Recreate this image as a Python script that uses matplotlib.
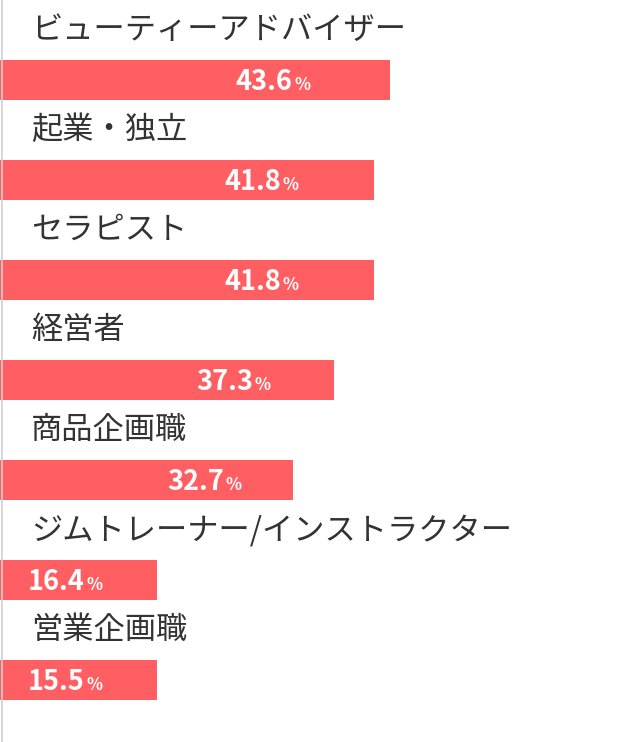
import matplotlib.pyplot as plt
from matplotlib.offsetbox import HPacker, TextArea, AnnotationBbox

plt.rcParams['font.family'] = ['Noto Sans CJK JP', 'DejaVu Sans']

labels = ['ビューティーアドバイザー', '起業・独立', 'セラピスト', '経営者',
          '商品企画職', 'ジムトレーナー/インストラクター', '営業企画職']
values = [43.6, 41.8, 41.8, 37.3, 32.7, 16.4, 15.5]

W, H = 639, 742
scale = 390 / 43.6  # px per percent
min_w = 157 / scale
color = '#ff5e62'

fig = plt.figure(figsize=(W / 100, H / 100), dpi=100)
ax = fig.add_axes([0, 0, 1, 1])
ax.set_xlim(0, W / scale)
ax.set_ylim(H, 0)
ax.axis('off')

ys = [80 + 100 * i for i in range(len(values))]
widths = [max(v, min_w) for v in values]
ax.barh(ys, widths, height=40, color=color, left=0)
ax.axvline(0.2, color='#d0d0d0', lw=1.2)

for y, lab, v, w in zip(ys, labels, values, widths):
    ax.text(31 / scale, y - 50, lab, fontsize=22.5, color='#333333', va='center', ha='left')
    cx = 65 / scale if w <= min_w + 0.01 else w * 0.7
    t1 = TextArea(f'{v}', textprops=dict(color='white', fontsize=19.5, fontweight='bold'))
    t2 = TextArea('%', textprops=dict(color='white', fontsize=12, fontweight='bold'))
    box = HPacker(children=[t1, t2], pad=0, sep=1, align='baseline')
    ab = AnnotationBbox(box, (cx, y + 2), frameon=False, box_alignment=(0.5, 0.5))
    ax.add_artist(ab)

fig.savefig('out.png', dpi=100)
